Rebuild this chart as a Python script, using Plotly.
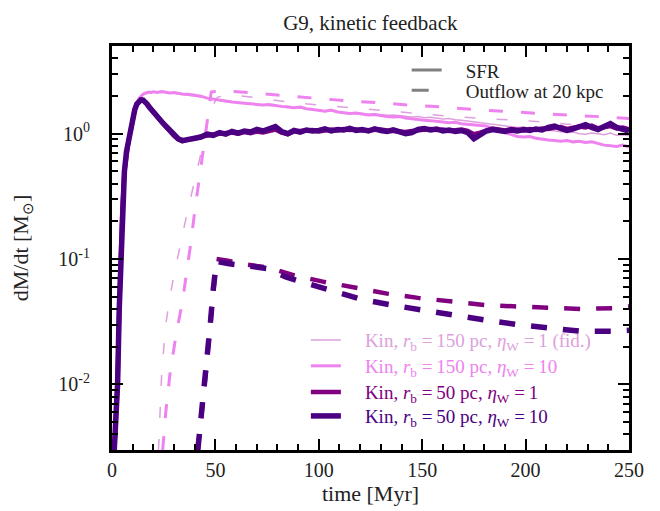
import math
import plotly.graph_objects as go

# ---- data ----
t_sfr = [0, 1, 1.5, 2, 2.7, 3.5, 4.2, 5, 6, 7, 8, 9, 10, 11, 12, 13, 14, 15, 16, 17,
         18, 19, 20, 22, 24, 26, 28, 30, 32, 34,
         37, 40, 43, 46, 49, 52, 55, 58, 61, 64,
         67, 70, 73, 76, 79, 82, 85, 88, 91, 94,
         97, 100, 103, 106, 109, 112, 115, 118, 121, 124,
         127, 130, 133, 136, 139, 142, 145, 148, 151, 154,
         157, 160, 163, 166, 169, 172, 175, 178, 181, 184,
         187, 190, 193, 196, 199, 202, 205, 208, 211, 214,
         217, 220, 223, 226, 229, 232, 235, 238, 241, 244,
         247, 250]

sfr_150_1 = [0.0015, 0.0025, 0.004, 0.006, 0.01, 0.04, 0.1, 0.25, 0.5, 0.72, 0.88, 1.05, 1.3, 1.55, 1.74, 1.88, 1.98, 2.05, 2.09, 2.13,
             2.12, 2.15, 2.14, 2.16, 2.12, 2.15, 2.10, 2.10, 2.07, 2.05,
             2.03, 2.01, 1.96, 1.93, 1.87, 1.83, 1.80, 1.80, 1.76, 1.74,
             1.74, 1.70, 1.70, 1.68, 1.66, 1.64, 1.65, 1.60, 1.60, 1.57,
             1.55, 1.55, 1.50, 1.52, 1.50, 1.46, 1.47, 1.44, 1.45, 1.42,
             1.43, 1.42, 1.40, 1.41, 1.39, 1.38, 1.36, 1.37, 1.34, 1.35,
             1.33, 1.31, 1.32, 1.29, 1.28, 1.26, 1.25, 1.22, 1.21, 1.18,
             1.16, 1.15, 1.13, 1.12, 1.13, 1.10, 1.11, 1.08, 1.07, 1.05,
             1.04, 1.02, 1.03, 1.00, 0.99, 1.01, 1.00, 0.98, 1.01, 0.97,
             0.98, 0.96]

sfr_150_10 = [0.0015, 0.0025, 0.004, 0.006, 0.01, 0.04, 0.1, 0.25, 0.5, 0.72, 0.88, 1.05, 1.3, 1.55, 1.75, 1.90, 2.00, 2.06, 2.10, 2.12,
              2.15, 2.13, 2.16, 2.13, 2.17, 2.14, 2.11, 2.13, 2.09, 2.07,
              2.06, 2.03, 1.99, 1.92, 1.88, 1.84, 1.82, 1.79, 1.78, 1.75,
              1.73, 1.72, 1.69, 1.71, 1.67, 1.65, 1.63, 1.61, 1.63, 1.58,
              1.56, 1.54, 1.51, 1.54, 1.49, 1.47, 1.45, 1.46, 1.43, 1.41,
              1.42, 1.39, 1.37, 1.36, 1.37, 1.33, 1.31, 1.30, 1.28, 1.27,
              1.26, 1.24, 1.22, 1.23, 1.20, 1.19, 1.18, 1.16, 1.15, 1.10,
              1.05, 1.02, 0.98, 0.95, 0.94, 0.95, 0.92, 0.90, 0.89, 0.88,
              0.87, 0.88, 0.86, 0.87, 0.85, 0.86, 0.83, 0.81, 0.80, 0.79,
              0.81, 0.78]

sfr_50_1 = [0.0015, 0.0025, 0.004, 0.006, 0.01, 0.04, 0.1, 0.25, 0.5, 0.72, 0.88, 1.05, 1.3, 1.55, 1.72, 1.82, 1.86, 1.85, 1.80, 1.72,
            1.63, 1.55, 1.47, 1.34, 1.24, 1.14, 1.04, 0.96, 0.90, 0.87,
            0.90, 0.91, 0.95, 0.97, 0.99, 1.00, 1.01, 1.02, 1.00, 1.03,
            1.01, 1.04, 1.02, 1.06, 1.08, 1.02, 0.99, 1.04, 1.05, 1.05,
            1.07, 1.04, 1.07, 1.08, 1.06, 1.09, 1.07, 1.08, 1.06, 1.07,
            1.06, 1.08, 1.06, 1.05, 1.06, 1.03, 1.05, 1.06, 1.08, 1.09,
            1.07, 1.08, 1.05, 1.06, 1.08, 1.05, 0.99, 1.02, 1.06, 1.10,
            1.08, 1.06, 1.09, 1.08, 1.06, 1.09, 1.07, 1.10, 1.09, 1.12,
            1.13, 1.09, 1.11, 1.14, 1.12, 1.16, 1.10, 1.12, 1.15, 1.10,
            1.12, 1.08]

sfr_50_10 = [0.0015, 0.0025, 0.004, 0.006, 0.01, 0.04, 0.1, 0.25, 0.5, 0.72, 0.88, 1.05, 1.3, 1.55, 1.72, 1.82, 1.86, 1.85, 1.80, 1.72,
             1.63, 1.55, 1.48, 1.35, 1.25, 1.15, 1.05, 0.97, 0.91, 0.88,
             0.89, 0.92, 0.94, 0.99, 0.97, 1.02, 0.99, 1.04, 1.01, 1.05,
             1.03, 1.08, 1.05, 1.10, 1.14, 1.04, 1.00, 1.06, 1.03, 1.07,
             1.05, 1.06, 1.09, 1.05, 1.08, 1.07, 1.10, 1.06, 1.08, 1.05,
             1.09, 1.06, 1.04, 1.07, 1.03, 1.00, 1.02, 1.08, 1.10, 1.07,
             1.09, 1.05, 1.07, 1.04, 1.06, 1.02, 0.91, 0.97, 1.05, 1.08,
             1.06, 1.04, 1.07, 1.05, 1.08, 1.06, 1.09, 1.07, 1.12, 1.15,
             1.10, 1.06, 1.09, 1.12, 1.18, 1.12, 1.08, 1.14, 1.20, 1.12,
             1.08, 1.05]

t_out_150_1 = [22.5, 24, 26, 28, 30, 33, 36, 39, 42, 44, 46, 48, 51, 56, 62, 71, 88, 104, 120, 140, 160, 180, 200, 220, 240, 250]
out_150_1 = [0.003, 0.012, 0.03, 0.05, 0.075, 0.13, 0.22, 0.36, 0.6, 0.85, 1.2, 1.6, 1.95, 2.05, 2.0, 1.93, 1.76, 1.67, 1.57, 1.47, 1.39, 1.32, 1.27, 1.19, 1.13, 1.1]

t_out_150_10 = [24.5, 26, 28, 31, 34, 36, 38, 40, 42, 44, 46, 48, 52, 60, 68, 85, 99, 113, 130, 145, 160, 176, 191, 208, 223, 238, 250]
out_150_10 = [0.003, 0.006, 0.012, 0.025, 0.045, 0.075, 0.13, 0.24, 0.42, 0.75, 1.35, 2.15, 2.2, 2.17, 2.12, 2.0, 1.9, 1.83, 1.76, 1.68, 1.63, 1.55, 1.5, 1.44, 1.4, 1.36, 1.32]

t_out_50_1 = [41.5, 43.5, 45.5, 47.5, 49, 50.5, 56, 62, 70, 75, 87, 102, 118, 133, 148, 163, 180, 194, 210, 227, 242, 250]
out_50_1 = [0.003, 0.006, 0.013, 0.03, 0.058, 0.1, 0.097, 0.092, 0.088, 0.086, 0.075, 0.066, 0.059, 0.053, 0.049, 0.046, 0.043, 0.042, 0.041, 0.040, 0.0405, 0.042]

t_out_50_10 = [41.5, 43.5, 45.5, 47.5, 49, 50.5, 56, 61, 68, 75, 84, 90, 105, 120, 135, 150, 166, 181, 196, 211, 227, 242, 250]
out_50_10 = [0.003, 0.006, 0.013, 0.03, 0.058, 0.096, 0.092, 0.089, 0.087, 0.084, 0.072, 0.067, 0.057, 0.048, 0.043, 0.039, 0.0355, 0.0325, 0.030, 0.028, 0.0265, 0.0265, 0.027]

x_ticks = [0, 50, 100, 150, 200, 250]
y_tick_vals = [0.01, 0.1, 1]
y_tick_text = ["10<sup>-2</sup>", "10<sup>-1</sup>", "10<sup>0</sup>"]
y_minor_vals = [0.003, 0.004, 0.005, 0.006, 0.007, 0.008, 0.009,
                0.02, 0.03, 0.04, 0.05, 0.06, 0.07, 0.08, 0.09,
                0.2, 0.3, 0.4, 0.5, 0.6, 0.7, 0.8, 0.9, 2, 3, 4, 5]

labels = [
    "Kin, <i>r</i><sub>b</sub> =\u2009150 pc, <i>η</i><sub>W</sub> =\u20091 (fid.)",
    "Kin, <i>r</i><sub>b</sub> =\u2009150 pc, <i>η</i><sub>W</sub> =\u200910",
    "Kin, <i>r</i><sub>b</sub> =\u200950 pc, <i>η</i><sub>W</sub> =\u20091",
    "Kin, <i>r</i><sub>b</sub> =\u200950 pc, <i>η</i><sub>W</sub> =\u200910",
]
colors = ["#DDA0DD", "#EE82EE", "#800080", "#4B0082"]
widths = [1.5, 3, 4.5, 5.5]
dashes = ["11px,21px", "14px,18px", "16px,16px", "16px,16px"]
run_legends = ["legend3", "legend4", "legend5", "legend6"]
run_rows_y = [0.272, 0.208, 0.143, 0.084]

sfr_sets = [sfr_150_1, sfr_150_10, sfr_50_1, sfr_50_10]
out_sets = [(t_out_150_1, out_150_1), (t_out_150_10, out_150_10),
            (t_out_50_1, out_50_1), (t_out_50_10, out_50_10)]

FONT = "Liberation Serif, Times New Roman, serif"
EM = "\u2003"

fig = go.Figure()

for lab, col, w, d, lg, sfr, (to, out) in zip(labels, colors, widths, dashes, run_legends,
                                             sfr_sets, out_sets):
    fig.add_trace(go.Scatter(x=to, y=out, mode="lines", showlegend=False,
                             line=dict(color=col, width=w, dash=d)))
    fig.add_trace(go.Scatter(x=t_sfr, y=sfr, mode="lines", legend=lg,
                             name=EM + "<span style='color:%s'>%s</span>" % (col, lab),
                             line=dict(color=col, width=w)))

# line-style key
fig.add_trace(go.Scatter(x=[None], y=[None], mode="lines", name=EM + "SFR",
                         line=dict(color="gray", width=3), legend="legend"))
fig.add_trace(go.Scatter(x=[None], y=[None], mode="lines", name=EM + "Outflow at 20 kpc",
                         line=dict(color="gray", width=3, dash="17px,40px"), legend="legend2"))

axis_common = dict(showline=True, linewidth=3, linecolor="black", mirror="allticks",
                   ticks="inside", ticklen=11, tickwidth=2, tickcolor="black",
                   showgrid=False, zeroline=False, automargin=False,
                   tickfont=dict(size=20, color="#222"),
                   title_font=dict(size=22, color="#222"))

legend_common = dict(xanchor="left", yanchor="middle", bgcolor="rgba(0,0,0,0)",
                     font=dict(size=19, color="#222"))

legends = {
    "legend": dict(x=0.570, y=0.940, **legend_common),
    "legend2": dict(x=0.570, y=0.890, **legend_common),
}
for lg, ry in zip(run_legends, run_rows_y):
    legends[lg] = dict(x=0.375, y=ry, **legend_common)

fig.update_layout(
    width=660, height=511,
    margin=dict(l=104, r=39, t=38, b=69, autoexpand=False),
    paper_bgcolor="white", plot_bgcolor="white",
    font=dict(family=FONT, color="#222"),
    title=dict(text="G9, kinetic feedback", x=0.549, xanchor="center",
               y=0.971, yanchor="middle", font=dict(size=21)),
    xaxis=dict(range=[0, 250], tickvals=x_ticks, title_text="time [Myr]",
               minor=dict(ticks="inside", ticklen=6, tickwidth=2, dtick=10, tickcolor="black"),
               title_standoff=6, **axis_common),
    yaxis=dict(type="log", range=[math.log10(0.003), math.log10(5)],
               tickvals=y_tick_vals, ticktext=y_tick_text,
               title_text="dM/dt [M<sub>\u2299</sub>]", title_standoff=34,
               ticklabelstandoff=15,
               minor=dict(ticks="inside", ticklen=6, tickwidth=2, tickvals=y_minor_vals,
                          tickcolor="black"),
               **axis_common),
    **legends,
)

fig.write_html("out.html")
